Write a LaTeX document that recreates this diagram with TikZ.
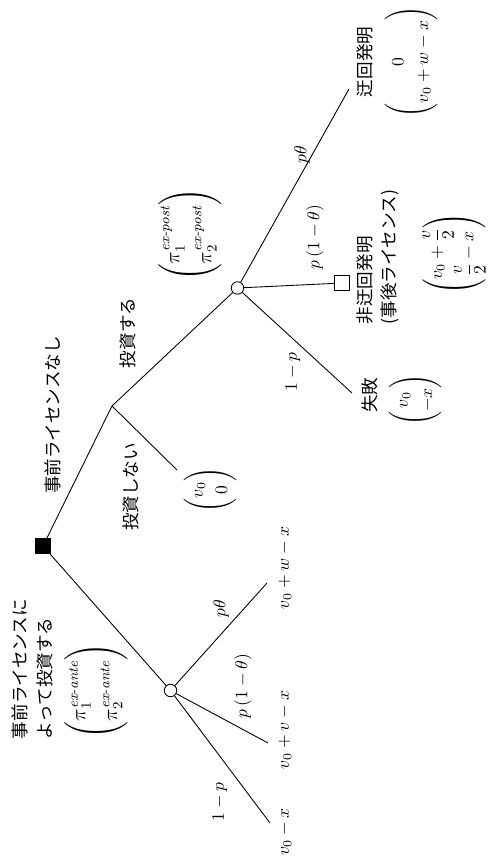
\documentclass[tikz,border=0pt]{standalone}
\usepackage{amsmath}
\usepackage{fontspec}
\newfontfamily\jpfont{Noto Sans CJK JP}
\usepackage{tikz}
\newcommand{\regime}[1]{\text{\normalfont\itshape #1}}
\tikzset{
  treefig/.style={rotate=90,transform shape,line width=0.5pt,
    every node/.style={font=\jpfont\fontsize{10}{14}\selectfont,align=left}},
  decnode/.style={draw,fill=black,minimum size=0.3cm,inner sep=0pt},
  infonode/.style={draw,fill=white,minimum size=0.3cm,inner sep=0pt},
  chancenode/.style={draw,circle,fill=white,minimum size=0.25cm,inner sep=0pt},
  prob/.style={inner sep=1pt},
  payoff/.style={inner sep=1pt},
  bigpayoff/.style={inner sep=1pt,font=\fontsize{12}{15}\selectfont},
}

\begin{document}
\begin{tikzpicture}[treefig]
  \useasboundingbox (0,0) rectangle (17.16,9.88);

  % first move
  \node[decnode] (root) at (6.24,9.02) {};
  \coordinate (nolic) at (9.04,7.64);
  \node[chancenode] (exante) at (3.35,6.47) {};
  \draw (root) -- (nolic);
  \draw (root) -- (exante);
  \node (nolictxt) at (8.86,8.82) {事前ライセンスなし};
  \node (exantetxt) at (3.78,9.23) {事前ライセンスに\\よって投資する};
  \node[bigpayoff] (exantepay) at (3.34,7.96)
    {$\begin{pmatrix}\pi_1^{\regime{ex-ante}}\\[3pt] \pi_2^{\regime{ex-ante}}\end{pmatrix}$};

  % no ex-ante licence: invest or not
  \node[chancenode] (expost) at (11.4,5.13) {};
  \coordinate (noinvend) at (7.76,6.34);
  \draw (nolic) -- (expost);
  \draw (nolic) -- (noinvend);
  \node (invtxt) at (10.5,7.32) {投資する};
  \node (noinvtxt) at (7.42,7.26) {投資しない};
  \node[payoff] (noinvpay) at (7.36,5.68) {$\begin{pmatrix}v_0\\ 0\end{pmatrix}$};
  \node[bigpayoff] (expostpay) at (12.46,6.08)
    {$\begin{pmatrix}\pi_1^{\regime{ex-post}}\\[3pt] \pi_2^{\regime{ex-post}}\end{pmatrix}$};

  % outcomes after investing without licence
  \coordinate (failend) at (9.3,2.84);
  \node[infonode] (nonround) at (11.5,3.04) {};
  \coordinate (roundend) at (15.38,2.9);
  \draw (expost) -- (failend);
  \draw (expost) -- (nonround);
  \draw (expost) -- (roundend);
  \node[prob] (q1) at (9.72,4.02) {$1-p$};
  \node[prob] (q2) at (12.42,3.58) {$p\,(1-\theta)$};
  \node[prob] (q3) at (14.06,3.84) {$p\theta$};

  \node (failtxt) at (9.26,2.48) {失敗};
  \node[payoff] (failpay) at (9.16,1.58) {$\begin{pmatrix}v_0\\ -x\end{pmatrix}$};
  \node (nonroundtxt) at (12.02,2.32) {非迂回発明\\(事後ライセンス)};
  \node[payoff] (nonroundpay) at (12.08,0.8)
    {$\begin{pmatrix}v_0+\dfrac{v}{2}\\ \dfrac{v}{2}-x\end{pmatrix}$};
  \node (roundtxt) at (15.92,2.58) {迂回発明};
  \node[payoff] (roundpay) at (15.92,1.66) {$\begin{pmatrix}0\\ v_0+w-x\end{pmatrix}$};

  % outcomes under ex-ante licence
  \coordinate (afail) at (0.7,4.48);
  \coordinate (anon) at (2.3,4.52);
  \coordinate (around) at (5.5,4.54);
  \draw (exante) -- (afail);
  \draw (exante) -- (anon);
  \draw (exante) -- (around);
  \node[prob] (r1) at (1.12,5.48) {$1-p$};
  \node[prob] (r2) at (3.44,5.02) {$p\,(1-\theta)$};
  \node[prob] (r3) at (4.98,5.46) {$p\theta$};
  \node (afailpay) at (0.52,4.18) {$v_0-x$};
  \node (anonpay) at (2.56,4.18) {$v_0+v-x$};
  \node (aroundpay) at (5.8,4.18) {$v_0+w-x$};
\end{tikzpicture}
\end{document}
